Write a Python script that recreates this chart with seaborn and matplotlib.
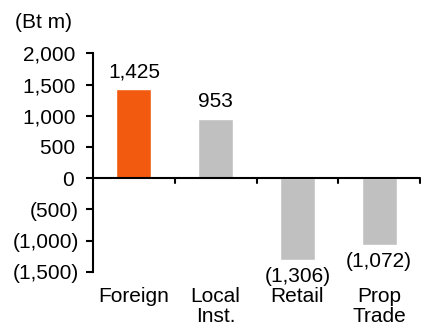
import matplotlib
matplotlib.use("Agg")
import matplotlib.pyplot as plt
import seaborn as sns
import pandas as pd

# Net buy / sell by investor type (Bt m)
categories = ["Foreign", "Local\nInst.", "Retail", "Prop\nTrade"]
values = [1425, 953, -1306, -1072]
value_labels = ["1,425", "953", "(1,306)", "(1,072)"]
y_ticks = [-1500, -1000, -500, 0, 500, 1000, 1500, 2000]
y_tick_labels = ["(1,500)", "(1,000)", "(500)", "0", "500", "1,000", "1,500", "2,000"]
unit_label = "(Bt m)"

bar_colors = ["#F25A10", "#C0C0C0", "#C0C0C0", "#C0C0C0"]

sns.set_theme(style="white")
plt.rcParams["font.family"] = ["Liberation Sans", "DejaVu Sans"]
FS = 15

df = pd.DataFrame({"cat": categories, "val": values})

fig = plt.figure(figsize=(4.21, 3.29), dpi=100)
ax = fig.add_axes([0.221, 0.174, 0.7766, 0.664])

sns.barplot(data=df, x="cat", y="val", hue="cat", palette=bar_colors,
            width=0.43, legend=False, ax=ax, saturation=1)

ax.set_ylim(-1500, 2000)
ax.set_xlim(-0.5, len(categories) - 0.5)
ax.set_yticks(y_ticks)
# accounting-style alignment: positive numbers keep a little room on the right
padded = [t if t.endswith(")") else t + "\u2009" for t in y_tick_labels]
ax.set_yticklabels(padded, fontsize=FS, color="black")
ax.set_xlabel("")
ax.set_ylabel("")

# Spines: left axis and a baseline at zero
for s in ["top", "right", "bottom"]:
    ax.spines[s].set_visible(False)
ax.spines["left"].set_color("black")
ax.spines["left"].set_linewidth(1.5)
ax.axhline(0, color="black", linewidth=1.5, xmin=0, xmax=1, zorder=3)
ax.tick_params(axis="y", direction="out", length=5, width=1.5, color="black", left=True, pad=5)

# Category separators hanging below the zero line
ax.set_xticks([])
for b in [0.5, 1.5, 2.5, 3.5]:
    ax.plot([b, b], [0, -85], color="black", linewidth=1.5, zorder=3, clip_on=False)

# Category names along the bottom
for i, c in enumerate(categories):
    ax.text(i, -1740, c, ha="center", va="top", fontsize=FS, color="black",
            linespacing=1.1)

# Value labels
for i, (v, lab) in enumerate(zip(values, value_labels)):
    if v >= 0:
        ax.text(i, v + 130, lab, ha="center", va="bottom", fontsize=FS, color="black")
    else:
        ax.text(i, v - 110, lab, ha="center", va="top", fontsize=FS, color="black")

fig.text(15 / 421, 1 - 23 / 329, unit_label, ha="left", va="center", fontsize=FS, color="black")

fig.savefig("out.png", dpi=100)
